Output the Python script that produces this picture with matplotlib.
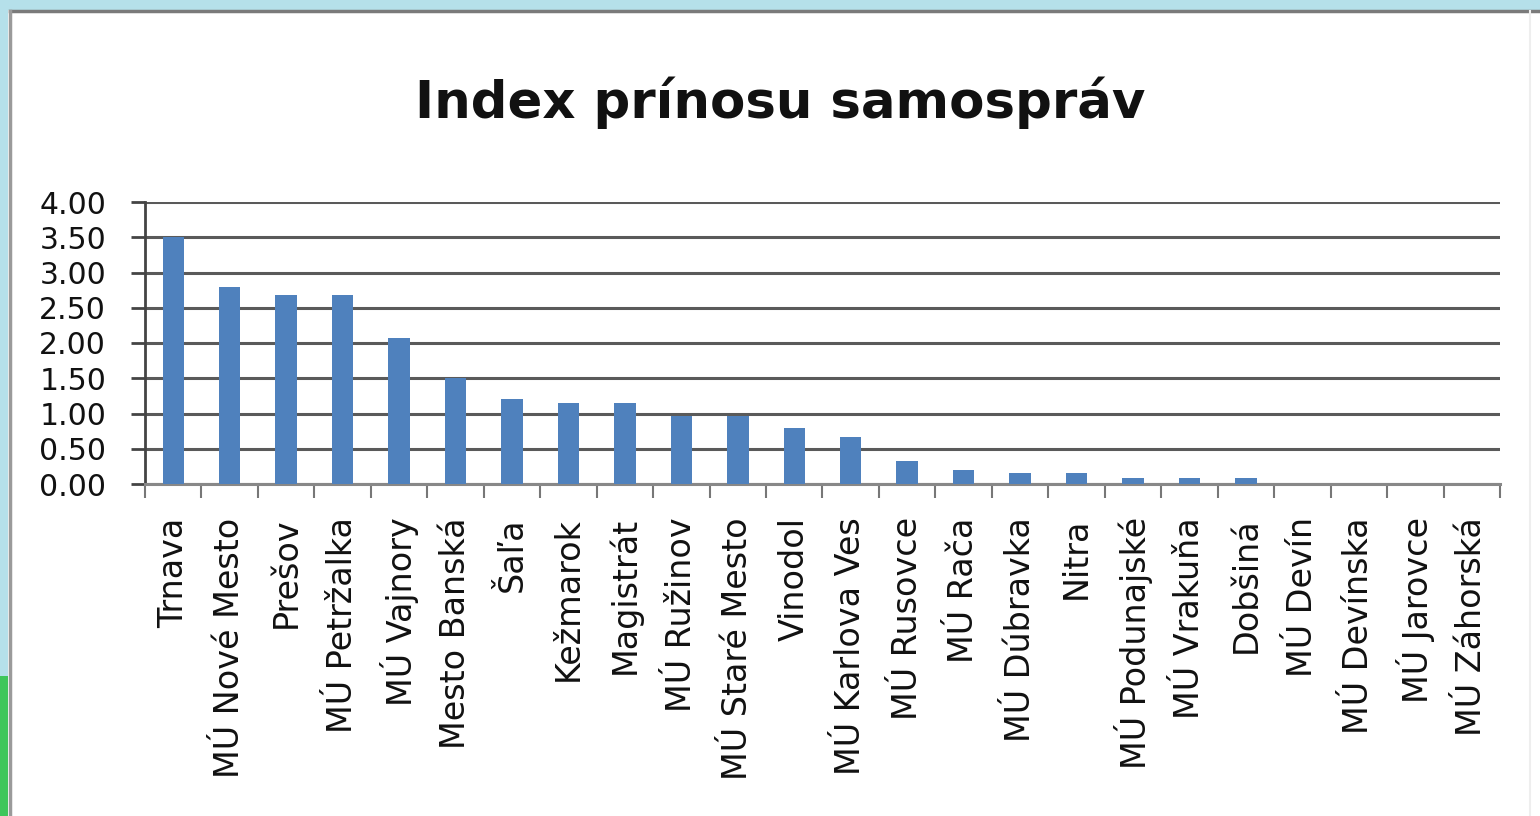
import matplotlib
matplotlib.use("Agg")
import matplotlib.pyplot as plt
from matplotlib.patches import Rectangle
from matplotlib.lines import Line2D
import numpy as np

title = "Index prínosu samospráv"
categories = ["Trnava", "MÚ Nové Mesto", "Prešov", "MÚ Petržalka", "MÚ Vajnory",
              "Mesto Banská", "Šaľa", "Kežmarok", "Magistrát", "MÚ Ružinov",
              "MÚ Staré Mesto", "Vinodol", "MÚ Karlova Ves", "MÚ Rusovce", "MÚ Rača",
              "MÚ Dúbravka", "Nitra", "MÚ Podunajské", "MÚ Vrakuňa", "Dobšiná",
              "MÚ Devín", "MÚ Devínska", "MÚ Jarovce", "MÚ Záhorská"]
values = [3.50, 2.79, 2.68, 2.68, 2.07, 1.50, 1.20, 1.15, 1.15, 0.96,
          0.96, 0.79, 0.67, 0.32, 0.20, 0.15, 0.15, 0.08, 0.08, 0.08,
          0.0, 0.0, 0.0, 0.0]
yticks = [0.0, 0.5, 1.0, 1.5, 2.0, 2.5, 3.0, 3.5, 4.0]

W, H = 1540, 816
fig = plt.figure(figsize=(W/100, H/100), dpi=100)
fig.patch.set_facecolor("white")

# background frame decoration
fig.patches.append(Rectangle((0, 1-10/H), 1, 10/H, transform=fig.transFigure,
                             facecolor="#b5e0ea", edgecolor="none", zorder=0))
fig.patches.append(Rectangle((0, 0), 8/W, 1, transform=fig.transFigure,
                             facecolor="#b5e0ea", edgecolor="none", zorder=0))
fig.patches.append(Rectangle((0, 0), 8/W, 1-676/H, transform=fig.transFigure,
                             facecolor="#3ec65a", edgecolor="none", zorder=0))
fig.lines.append(Line2D([10/W, 1], [1-11/H, 1-11/H], transform=fig.transFigure,
                        color="#7a7a7a", lw=2.5))
fig.lines.append(Line2D([10/W, 10/W], [0, 1-11/H], transform=fig.transFigure,
                        color="#9a9a9a", lw=2.5))
fig.lines.append(Line2D([1530/W, 1530/W], [0, 1-11/H], transform=fig.transFigure,
                        color="#eeeeee", lw=1.5))

ax = fig.add_axes([145/W, 1-484/H, (1500-145)/W, (484-202)/H])
x = np.arange(len(categories))
ax.bar(x, values, width=0.38, color="#4f81bd", zorder=3)

ax.set_xlim(-0.5, len(categories)-0.5)
ax.set_ylim(0, 4.0)
ax.set_yticks(yticks)
ax.set_yticklabels([f"{v:.2f}" for v in yticks], fontsize=21.5, color="#111111")
ax.yaxis.grid(True, color="#5a5a5a", lw=2.2, zorder=1)
ax.set_axisbelow(True)

ax.set_xticks(x)
ax.set_xticklabels(categories, rotation=90, fontsize=24, color="#111111",
                   va="top", ha="center")
ax.set_xticks(np.arange(-0.5, len(categories)), minor=True)
ax.tick_params(axis="x", which="major", length=0, pad=24)
ax.tick_params(axis="x", which="minor", length=10, width=1.5, color="#777777")
ax.tick_params(axis="y", length=10, width=2, color="#444444", pad=18)

for s in ["top", "right"]:
    ax.spines[s].set_visible(False)
ax.spines["left"].set_color("#444444")
ax.spines["left"].set_linewidth(2)
ax.spines["bottom"].set_color("#888888")
ax.spines["bottom"].set_linewidth(2.2)

fig.text(780/W, 1-103/H, title, fontsize=37, fontweight="bold",
         ha="center", va="center", color="#111111")

fig.savefig("out.png", dpi=100, facecolor=fig.get_facecolor())
